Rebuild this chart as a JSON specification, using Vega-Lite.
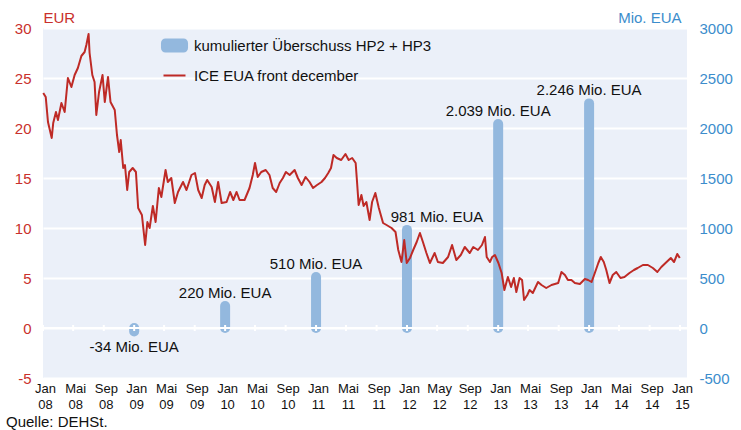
{
  "$schema": "https://vega.github.io/schema/vega-lite/v6.json",
  "width": 644,
  "height": 350,
  "autosize": {"type": "none"},
  "padding": {"left": 43, "top": 28, "right": 54, "bottom": 52},
  "background": "white",
  "config": {
    "font": "Liberation Sans",
    "view": {"fill": "#ebf0f9", "stroke": null},
    "axisX": {"labelOverlap": false, "labelFlush": false, "tickCount": 40}
  },
  "title": {
    "text": "Quelle: DEHSt.",
    "orient": "bottom",
    "anchor": "start",
    "frame": "group",
    "dx": -37,
    "offset": 4,
    "fontSize": 15,
    "fontWeight": "normal",
    "color": "#111111"
  },
  "datasets": {
    "surplus": [
      {"d": "2009-01-01", "mio": -34, "label": "-34 Mio. EUA"},
      {"d": "2010-01-01", "mio": 220, "label": "220 Mio. EUA"},
      {"d": "2011-01-01", "mio": 510, "label": "510 Mio. EUA"},
      {"d": "2012-01-01", "mio": 981, "label": "981 Mio. EUA"},
      {"d": "2013-01-01", "mio": 2039, "label": "2.039 Mio. EUA"},
      {"d": "2014-01-01", "mio": 2246, "label": "2.246 Mio. EUA"}
    ],
    "ticks": [
      {"d": "2008-01-01"}, {"d": "2008-05-01"}, {"d": "2008-09-01"},
      {"d": "2009-01-01"}, {"d": "2009-05-01"}, {"d": "2009-09-01"},
      {"d": "2010-01-01"}, {"d": "2010-05-01"}, {"d": "2010-09-01"},
      {"d": "2011-01-01"}, {"d": "2011-05-01"}, {"d": "2011-09-01"},
      {"d": "2012-01-01"}, {"d": "2012-05-01"}, {"d": "2012-09-01"},
      {"d": "2013-01-01"}, {"d": "2013-05-01"}, {"d": "2013-09-01"},
      {"d": "2014-01-01"}, {"d": "2014-05-01"}, {"d": "2014-09-01"},
      {"d": "2015-01-01"}
    ],
    "price": [
      {"d": "2008-01-02", "eur": 23.5}, {"d": "2008-01-12", "eur": 23.1}, {"d": "2008-01-21", "eur": 20.6},
      {"d": "2008-02-05", "eur": 19.0}, {"d": "2008-02-11", "eur": 20.5}, {"d": "2008-02-22", "eur": 21.6},
      {"d": "2008-03-01", "eur": 20.8}, {"d": "2008-03-15", "eur": 22.5}, {"d": "2008-03-28", "eur": 21.6},
      {"d": "2008-04-10", "eur": 25.0}, {"d": "2008-04-24", "eur": 24.1}, {"d": "2008-05-07", "eur": 25.3},
      {"d": "2008-05-20", "eur": 26.0}, {"d": "2008-06-03", "eur": 27.2}, {"d": "2008-06-16", "eur": 27.6},
      {"d": "2008-06-23", "eur": 28.3}, {"d": "2008-07-02", "eur": 29.4}, {"d": "2008-07-06", "eur": 27.5},
      {"d": "2008-07-17", "eur": 25.3}, {"d": "2008-07-26", "eur": 24.6}, {"d": "2008-08-02", "eur": 21.3},
      {"d": "2008-08-13", "eur": 23.6}, {"d": "2008-08-27", "eur": 25.3}, {"d": "2008-09-05", "eur": 22.6},
      {"d": "2008-09-18", "eur": 25.1}, {"d": "2008-09-28", "eur": 22.6}, {"d": "2008-10-15", "eur": 21.8},
      {"d": "2008-10-24", "eur": 19.3}, {"d": "2008-11-02", "eur": 17.6}, {"d": "2008-11-08", "eur": 18.8},
      {"d": "2008-11-18", "eur": 16.0}, {"d": "2008-11-25", "eur": 16.3}, {"d": "2008-12-04", "eur": 13.8},
      {"d": "2008-12-12", "eur": 15.6}, {"d": "2008-12-26", "eur": 16.0}, {"d": "2009-01-08", "eur": 15.6},
      {"d": "2009-01-17", "eur": 12.0}, {"d": "2009-02-01", "eur": 11.3}, {"d": "2009-02-14", "eur": 8.3},
      {"d": "2009-02-23", "eur": 10.6}, {"d": "2009-03-04", "eur": 10.0}, {"d": "2009-03-17", "eur": 12.2},
      {"d": "2009-03-28", "eur": 10.6}, {"d": "2009-04-10", "eur": 14.0}, {"d": "2009-04-20", "eur": 13.1},
      {"d": "2009-05-07", "eur": 15.8}, {"d": "2009-05-16", "eur": 14.6}, {"d": "2009-05-30", "eur": 15.0},
      {"d": "2009-06-13", "eur": 12.5}, {"d": "2009-06-26", "eur": 13.6}, {"d": "2009-07-16", "eur": 14.6},
      {"d": "2009-07-30", "eur": 13.8}, {"d": "2009-08-19", "eur": 15.3}, {"d": "2009-09-02", "eur": 15.5},
      {"d": "2009-09-15", "eur": 13.8}, {"d": "2009-09-29", "eur": 13.0}, {"d": "2009-10-11", "eur": 14.3},
      {"d": "2009-10-21", "eur": 14.8}, {"d": "2009-11-08", "eur": 14.1}, {"d": "2009-11-21", "eur": 12.6},
      {"d": "2009-12-04", "eur": 14.6}, {"d": "2009-12-18", "eur": 12.5}, {"d": "2010-01-07", "eur": 12.6},
      {"d": "2010-01-21", "eur": 13.6}, {"d": "2010-02-03", "eur": 12.8}, {"d": "2010-02-16", "eur": 13.6},
      {"d": "2010-02-28", "eur": 12.8}, {"d": "2010-03-20", "eur": 12.8}, {"d": "2010-04-09", "eur": 14.0},
      {"d": "2010-04-22", "eur": 15.3}, {"d": "2010-05-01", "eur": 16.5}, {"d": "2010-05-12", "eur": 15.1},
      {"d": "2010-05-26", "eur": 15.6}, {"d": "2010-06-13", "eur": 15.8}, {"d": "2010-06-28", "eur": 15.3},
      {"d": "2010-07-11", "eur": 14.0}, {"d": "2010-07-25", "eur": 13.6}, {"d": "2010-08-08", "eur": 14.5},
      {"d": "2010-08-21", "eur": 15.0}, {"d": "2010-09-02", "eur": 15.6}, {"d": "2010-09-17", "eur": 15.3},
      {"d": "2010-10-07", "eur": 15.8}, {"d": "2010-10-20", "eur": 15.0}, {"d": "2010-11-04", "eur": 14.3},
      {"d": "2010-11-20", "eur": 15.1}, {"d": "2010-12-06", "eur": 14.6}, {"d": "2010-12-20", "eur": 14.0},
      {"d": "2011-01-05", "eur": 14.3}, {"d": "2011-01-23", "eur": 14.6}, {"d": "2011-02-06", "eur": 15.0},
      {"d": "2011-02-19", "eur": 15.5}, {"d": "2011-03-02", "eur": 16.0}, {"d": "2011-03-12", "eur": 17.3},
      {"d": "2011-03-25", "eur": 17.0}, {"d": "2011-04-12", "eur": 16.8}, {"d": "2011-04-29", "eur": 17.4},
      {"d": "2011-05-12", "eur": 16.8}, {"d": "2011-05-26", "eur": 17.0}, {"d": "2011-06-09", "eur": 16.5},
      {"d": "2011-06-14", "eur": 14.8}, {"d": "2011-06-21", "eur": 12.3}, {"d": "2011-07-02", "eur": 13.3},
      {"d": "2011-07-11", "eur": 12.2}, {"d": "2011-07-22", "eur": 12.6}, {"d": "2011-08-04", "eur": 10.8},
      {"d": "2011-08-14", "eur": 12.6}, {"d": "2011-08-27", "eur": 13.5}, {"d": "2011-09-10", "eur": 12.0},
      {"d": "2011-09-27", "eur": 10.5}, {"d": "2011-10-11", "eur": 10.3}, {"d": "2011-10-31", "eur": 10.0},
      {"d": "2011-11-16", "eur": 9.6}, {"d": "2011-11-27", "eur": 7.8}, {"d": "2011-12-10", "eur": 6.6},
      {"d": "2011-12-21", "eur": 8.8}, {"d": "2011-12-31", "eur": 6.5}, {"d": "2012-01-13", "eur": 7.0},
      {"d": "2012-01-26", "eur": 7.8}, {"d": "2012-02-09", "eur": 8.6}, {"d": "2012-02-22", "eur": 9.5},
      {"d": "2012-03-05", "eur": 8.6}, {"d": "2012-03-19", "eur": 7.5}, {"d": "2012-04-02", "eur": 6.5},
      {"d": "2012-04-21", "eur": 7.5}, {"d": "2012-05-04", "eur": 6.6}, {"d": "2012-05-24", "eur": 6.5},
      {"d": "2012-06-14", "eur": 7.1}, {"d": "2012-06-30", "eur": 8.3}, {"d": "2012-07-17", "eur": 6.8},
      {"d": "2012-08-04", "eur": 7.3}, {"d": "2012-08-20", "eur": 8.1}, {"d": "2012-09-09", "eur": 7.5},
      {"d": "2012-09-23", "eur": 8.1}, {"d": "2012-10-12", "eur": 7.8}, {"d": "2012-10-28", "eur": 8.3},
      {"d": "2012-11-09", "eur": 9.1}, {"d": "2012-11-16", "eur": 7.1}, {"d": "2012-11-29", "eur": 6.6},
      {"d": "2012-12-08", "eur": 7.1}, {"d": "2012-12-19", "eur": 7.3}, {"d": "2013-01-02", "eur": 6.5},
      {"d": "2013-01-15", "eur": 5.5}, {"d": "2013-01-26", "eur": 3.8}, {"d": "2013-02-09", "eur": 5.1},
      {"d": "2013-02-22", "eur": 4.1}, {"d": "2013-03-05", "eur": 5.0}, {"d": "2013-03-15", "eur": 3.6},
      {"d": "2013-03-28", "eur": 5.0}, {"d": "2013-04-07", "eur": 4.8}, {"d": "2013-04-15", "eur": 2.8},
      {"d": "2013-04-28", "eur": 3.3}, {"d": "2013-05-07", "eur": 3.8}, {"d": "2013-05-20", "eur": 3.5},
      {"d": "2013-06-10", "eur": 4.6}, {"d": "2013-06-24", "eur": 4.3}, {"d": "2013-07-13", "eur": 4.0},
      {"d": "2013-08-03", "eur": 4.3}, {"d": "2013-08-30", "eur": 4.5}, {"d": "2013-09-12", "eur": 5.6},
      {"d": "2013-09-26", "eur": 5.3}, {"d": "2013-10-08", "eur": 4.8}, {"d": "2013-10-22", "eur": 4.8},
      {"d": "2013-11-05", "eur": 4.5}, {"d": "2013-11-25", "eur": 4.4}, {"d": "2013-12-15", "eur": 4.9},
      {"d": "2013-12-28", "eur": 4.8}, {"d": "2014-01-11", "eur": 4.6}, {"d": "2014-01-24", "eur": 5.5},
      {"d": "2014-02-07", "eur": 6.5}, {"d": "2014-02-17", "eur": 7.1}, {"d": "2014-03-01", "eur": 6.6},
      {"d": "2014-03-11", "eur": 5.8}, {"d": "2014-03-24", "eur": 4.5}, {"d": "2014-04-06", "eur": 5.3},
      {"d": "2014-04-20", "eur": 5.6}, {"d": "2014-05-07", "eur": 5.0}, {"d": "2014-05-23", "eur": 5.1},
      {"d": "2014-06-12", "eur": 5.5}, {"d": "2014-06-30", "eur": 5.8}, {"d": "2014-07-15", "eur": 6.0},
      {"d": "2014-08-05", "eur": 6.3}, {"d": "2014-08-25", "eur": 6.3}, {"d": "2014-09-14", "eur": 6.0},
      {"d": "2014-10-02", "eur": 5.6}, {"d": "2014-10-18", "eur": 6.1}, {"d": "2014-11-08", "eur": 6.6},
      {"d": "2014-11-25", "eur": 7.0}, {"d": "2014-12-08", "eur": 6.6}, {"d": "2014-12-21", "eur": 7.4},
      {"d": "2014-12-31", "eur": 7.0}
    ]
  },
  "layer": [
    {
      "data": {"name": "surplus"},
      "layer": [
        {
          "mark": {"type": "rule", "strokeWidth": 10, "strokeCap": "round"},
          "encoding": {
            "x": {"field": "d", "type": "temporal",
                  "scale": {"domain": [{"year": 2008, "month": 1, "date": 1}, {"year": 2015, "month": 1, "date": 29}]},
                  "axis": {"orient": "bottom", "title": null, "tickCount": 40,
                           "values": [
                             {"year": 2008, "month": 1, "date": 1}, {"year": 2008, "month": 5, "date": 1}, {"year": 2008, "month": 9, "date": 1},
                             {"year": 2009, "month": 1, "date": 1}, {"year": 2009, "month": 5, "date": 1}, {"year": 2009, "month": 9, "date": 1},
                             {"year": 2010, "month": 1, "date": 1}, {"year": 2010, "month": 5, "date": 1}, {"year": 2010, "month": 9, "date": 1},
                             {"year": 2011, "month": 1, "date": 1}, {"year": 2011, "month": 5, "date": 1}, {"year": 2011, "month": 9, "date": 1},
                             {"year": 2012, "month": 1, "date": 1}, {"year": 2012, "month": 5, "date": 1}, {"year": 2012, "month": 9, "date": 1},
                             {"year": 2013, "month": 1, "date": 1}, {"year": 2013, "month": 5, "date": 1}, {"year": 2013, "month": 9, "date": 1},
                             {"year": 2014, "month": 1, "date": 1}, {"year": 2014, "month": 5, "date": 1}, {"year": 2014, "month": 9, "date": 1},
                             {"year": 2015, "month": 1, "date": 1}
                           ],
                           "labelExpr": "[month(datum.value) == 0 ? 'Jan' : (month(datum.value) == 4 ? (year(datum.value) == 2012 ? 'May' : 'Mai') : 'Sep'), timeFormat(datum.value, '%y')]",
                           "grid": false, "domain": false, "ticks": false,
                           "labelPadding": 4, "labelFontSize": 13, "labelColor": "#111111",
                           "labelLineHeight": 16, "labelOffset": 2, "labelFlush": false,
                           "labelOverlap": false}},
            "y": {"field": "mio", "type": "quantitative",
                  "scale": {"domain": [-500, 3000], "nice": false},
                  "axis": {"orient": "right", "values": [-500, 0, 500, 1000, 1500, 2000, 2500, 3000],
                           "format": "d", "labelExpr": "replace(datum.label, '\u2212', '-')",
                           "grid": false, "domain": false, "ticks": false, "labelPadding": 12,
                           "labelFontSize": 15, "labelColor": "#3c8dcc", "labelAlign": "left",
                           "title": "Mio. EUA", "titleAngle": 0, "titleX": -6, "titleY": -6,
                           "titleAlign": "right", "titleBaseline": "alphabetic",
                           "titleFontSize": 15, "titleFontWeight": "normal", "titleColor": "#3c8dcc"}},
            "y2": {"datum": 0},
            "color": {"datum": "kumulierter Überschuss HP2 + HP3",
                      "scale": {"domain": ["kumulierter Überschuss HP2 + HP3", "ICE EUA front december"],
                                "range": ["#93b8de", "#be2a26"]},
                      "legend": {
                        "orient": "none", "legendX": 124, "legendY": 10, "title": null,
                        "direction": "vertical", "padding": 0,
                        "symbolSize": 484, "rowPadding": 14, "labelOffset": 12, "labelLimit": 400,
                        "labelFontSize": 15, "labelColor": "#111111",
                        "encode": {
                          "symbols": {
                            "update": {
                              "shape": {"signal": "datum.value == 'ICE EUA front december' ? 'stroke' : 'M-0.82,-0.636L0.82,-0.636A0.41,0.41 0 0 1 1.23,-0.226L1.23,0.226A0.41,0.41 0 0 1 0.82,0.636L-0.82,0.636A0.41,0.41 0 0 1 -1.23,0.226L-1.23,-0.226A0.41,0.41 0 0 1 -0.82,-0.636Z'"},
                              "fill": {"signal": "datum.value == 'ICE EUA front december' ? 'transparent' : '#93b8de'"},
                              "stroke": {"signal": "datum.value == 'ICE EUA front december' ? '#be2a26' : '#93b8de'"},
                              "strokeWidth": {"signal": "datum.value == 'ICE EUA front december' ? 2 : 0"},
                              "opacity": {"value": 1}
                            }
                          }
                        }
                      }}
          }
        },
        {
          "transform": [{"filter": "datum.mio > 0 && datum.mio != 981"}],
          "mark": {"type": "text", "fontSize": 15, "color": "#111111", "baseline": "alphabetic", "dy": -8},
          "encoding": {
            "x": {"field": "d", "type": "temporal"},
            "y": {"field": "mio", "type": "quantitative"},
            "text": {"field": "label"}
          }
        },
        {
          "transform": [{"filter": "datum.mio == 981"}],
          "mark": {"type": "text", "fontSize": 15, "color": "#111111", "baseline": "alphabetic", "dy": -8, "dx": 30},
          "encoding": {
            "x": {"field": "d", "type": "temporal"},
            "y": {"field": "mio", "type": "quantitative"},
            "text": {"field": "label"}
          }
        },
        {
          "transform": [{"filter": "datum.mio < 0"}],
          "mark": {"type": "text", "fontSize": 15, "color": "#111111", "baseline": "middle", "dy": 16},
          "encoding": {
            "x": {"field": "d", "type": "temporal"},
            "y": {"field": "mio", "type": "quantitative"},
            "text": {"field": "label"}
          }
        }
      ]
    },
    {
      "layer": [
        {
          "data": {"values": [{"eur": 0}]},
          "mark": {"type": "rule", "color": "white", "strokeWidth": 2},
          "encoding": {
            "y": {"field": "eur", "type": "quantitative"}
          }
        },
        {
          "data": {"name": "ticks"},
          "mark": {"type": "tick", "orient": "vertical", "color": "white", "size": 6, "thickness": 2, "opacity": 1},
          "encoding": {
            "x": {"field": "d", "type": "temporal"},
            "y": {"datum": 0, "type": "quantitative"}
          }
        },
        {
          "data": {"name": "price"},
          "mark": {"type": "line", "strokeWidth": 2, "strokeJoin": "round"},
          "encoding": {
            "x": {"field": "d", "type": "temporal",
                  "axis": {"orient": "bottom", "title": null, "tickCount": 40,
                           "values": [
                             {"year": 2008, "month": 1, "date": 1}, {"year": 2008, "month": 5, "date": 1}, {"year": 2008, "month": 9, "date": 1},
                             {"year": 2009, "month": 1, "date": 1}, {"year": 2009, "month": 5, "date": 1}, {"year": 2009, "month": 9, "date": 1},
                             {"year": 2010, "month": 1, "date": 1}, {"year": 2010, "month": 5, "date": 1}, {"year": 2010, "month": 9, "date": 1},
                             {"year": 2011, "month": 1, "date": 1}, {"year": 2011, "month": 5, "date": 1}, {"year": 2011, "month": 9, "date": 1},
                             {"year": 2012, "month": 1, "date": 1}, {"year": 2012, "month": 5, "date": 1}, {"year": 2012, "month": 9, "date": 1},
                             {"year": 2013, "month": 1, "date": 1}, {"year": 2013, "month": 5, "date": 1}, {"year": 2013, "month": 9, "date": 1},
                             {"year": 2014, "month": 1, "date": 1}, {"year": 2014, "month": 5, "date": 1}, {"year": 2014, "month": 9, "date": 1},
                             {"year": 2015, "month": 1, "date": 1}
                           ],
                           "labelExpr": "[month(datum.value) == 0 ? 'Jan' : (month(datum.value) == 4 ? (year(datum.value) == 2012 ? 'May' : 'Mai') : 'Sep'), timeFormat(datum.value, '%y')]",
                           "grid": false, "domain": false, "ticks": false,
                           "labelPadding": 4, "labelFontSize": 13, "labelColor": "#111111",
                           "labelLineHeight": 16, "labelOffset": 2, "labelFlush": false,
                           "labelOverlap": false}},
            "y": {"field": "eur", "type": "quantitative",
                  "scale": {"domain": [-5, 30], "nice": false},
                  "axis": {"orient": "left", "values": [-5, 0, 5, 10, 15, 20, 25, 30],
                           "labelExpr": "replace(datum.label, '\u2212', '-')",
                           "grid": true, "gridColor": "white", "gridWidth": 2,
                           "domain": false, "ticks": false, "labelPadding": 12,
                           "labelFontSize": 15, "labelColor": "#c9302c",
                           "title": "EUR", "titleAngle": 0, "titleX": 0, "titleY": -6,
                           "titleAlign": "left", "titleBaseline": "alphabetic",
                           "titleFontSize": 15, "titleFontWeight": "normal", "titleColor": "#c9302c"}},
            "color": {"datum": "ICE EUA front december"}
          }
        }
      ]
    }
  ],
  "resolve": {"scale": {"y": "independent"}}
}
